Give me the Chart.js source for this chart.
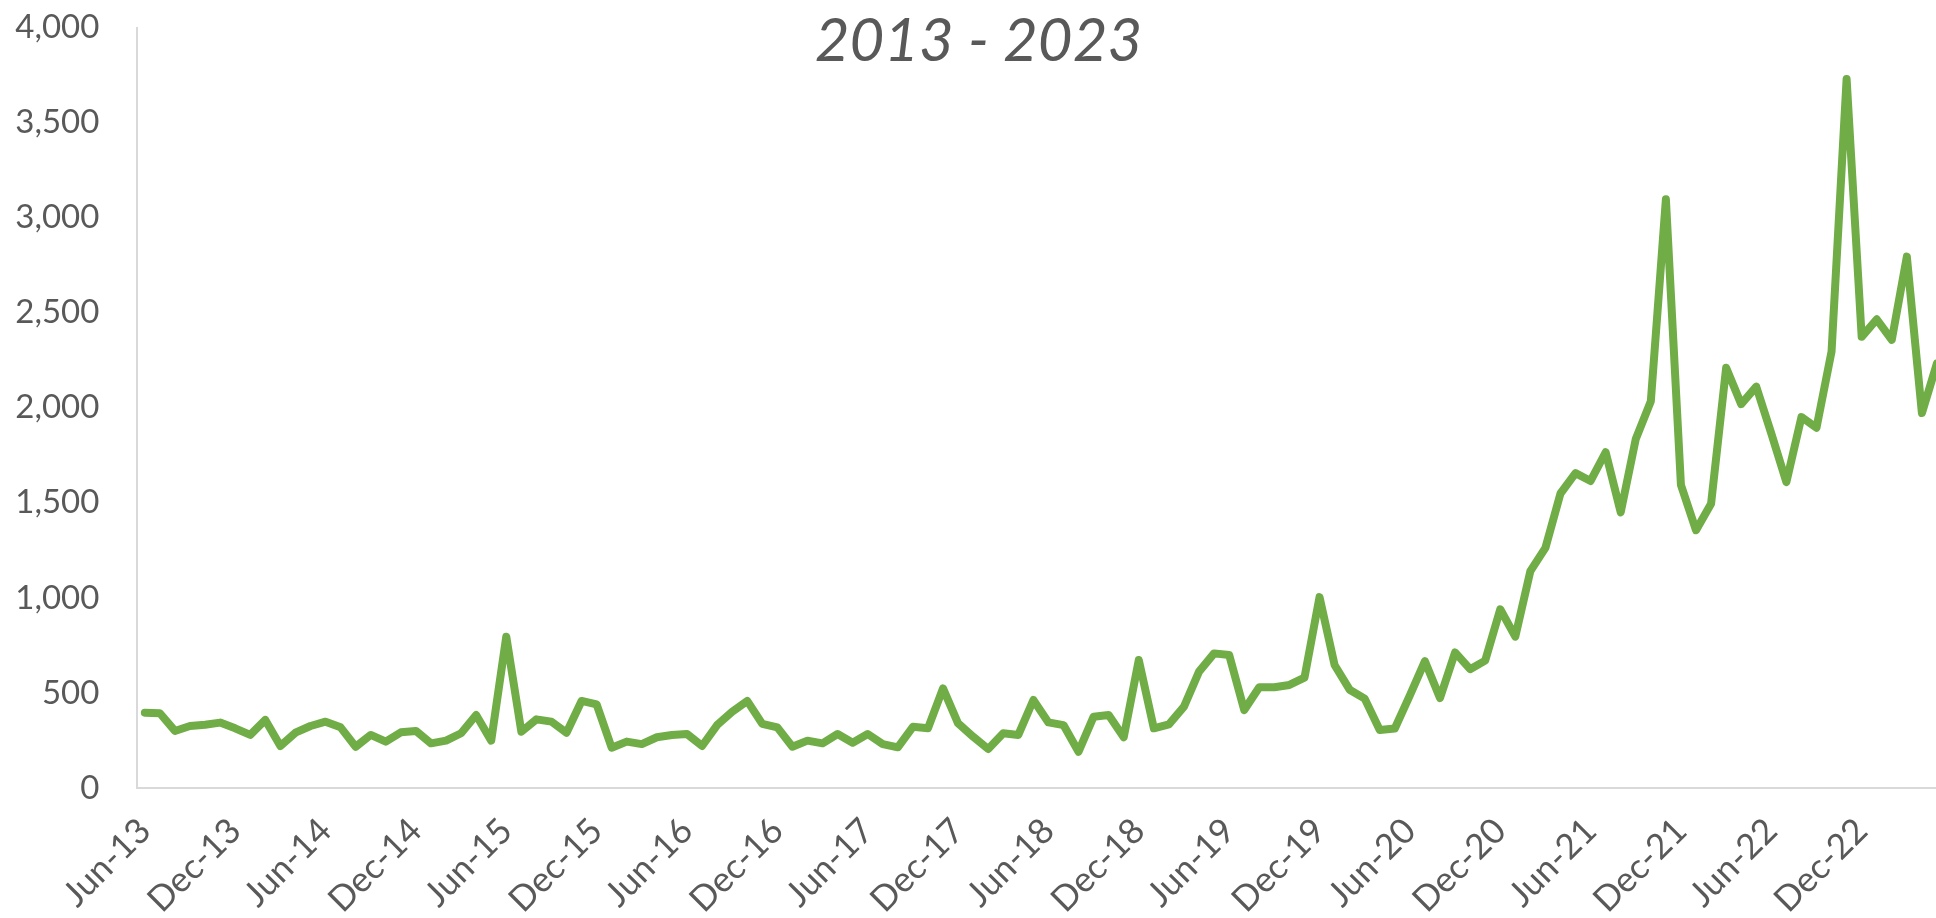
<!DOCTYPE html>
<html>
<head>
<meta charset="utf-8">
<script src="https://cdn.jsdelivr.net/npm/chart.js@4.4.1/dist/chart.umd.min.js"></script>
<style>
    html, body { margin: 0; padding: 0; background: #fff; overflow: hidden; }
    #wrap { position: absolute; left: 0; top: 0; width: 1950px; height: 918px; }
    #titulo {
        position: absolute; left: 0; top: 8px; width: 1957px;
        text-align: center; font-family: Lato, sans-serif; font-style: italic;
        font-size: 60px; line-height: 60px; color: #595959;
    }
</style>
</head>
<body>
<div id="wrap">
    <canvas id="grafico" width="1950" height="918"></canvas>
    <div id="titulo">2013 - 2023</div>
</div>
<script>
// monthly values, Jun-13 .. May-23
const meses = ['Jan', 'Feb', 'Mar', 'Apr', 'May', 'Jun', 'Jul', 'Aug', 'Sep', 'Oct', 'Nov', 'Dec'];
const valores = [
    396, 393, 300, 326, 333, 344, 314, 279, 358, 221, 291, 326,
    349, 319, 217, 279, 244, 293, 300, 235, 249, 288, 384, 249,
    796, 296, 361, 349, 291, 458, 440, 212, 244, 231, 267, 279,
    284, 221, 331, 401, 458, 337, 319, 217, 249, 235, 284, 238,
    284, 231, 214, 322, 314, 524, 340, 270, 205, 288, 279, 463,
    345, 331, 191, 375, 384, 267, 673, 314, 335, 428, 612, 708,
    700, 410, 530, 530, 542, 580, 1004, 647, 517, 470, 305, 313,
    487, 667, 473, 713, 625, 670, 940, 796, 1141, 1263, 1549, 1656,
    1615, 1766, 1450, 1836, 2034, 3097, 1594, 1356, 1495, 2210, 2019, 2111,
    1865, 1609, 1951, 1895, 2296, 3729, 2373, 2465, 2357, 2795, 1972, 2234
];
const mostrarMeses = ['Jun', 'Dec'];
const yTicks = [0, 500, 1000, 1500, 2000, 2500, 3000, 3500, 4000];

const categorias = [];
let m = 5, ano = 13;
for (let i = 0; i < valores.length; i++) {
    categorias.push(meses[m] + '-' + ano);
    m++;
    if (m === 12) { m = 0; ano++; }
}

const cinza = '#595959';
const ctx = document.getElementById('grafico').getContext('2d');
new Chart(ctx, {
    type: 'line',
    data: {
        labels: categorias,
        datasets: [{
            data: valores,
            borderColor: '#70AD47',
            borderWidth: 8,
            pointRadius: 0,
            tension: 0,
            borderJoinStyle: 'round',
            borderCapStyle: 'round'
        }]
    },
    options: {
        responsive: false,
        animation: false,
        devicePixelRatio: 1,
        layout: { padding: { top: 27.5, right: 5.5, bottom: 0, left: 0 } },
        plugins: { legend: { display: false }, tooltip: { enabled: false } },
        scales: {
            x: {
                type: 'category',
                offset: true,
                grid: { display: false, drawTicks: false },
                border: { display: true, color: '#d9d9d9', width: 2 },
                afterFit: s => {
                    s.height = 130;
                    s.paddingLeft = 0;
                    s.paddingRight = 0;
                },
                ticks: {
                    autoSkip: false,
                    minRotation: 45,
                    maxRotation: 45,
                    padding: 22,
                    color: cinza,
                    font: { family: 'Lato', size: 35 },
                    callback: function (v, i) {
                        const lab = categorias[i];
                        return mostrarMeses.includes(lab.slice(0, 3)) ? lab : '';
                    }
                }
            },
            y: {
                min: 0,
                max: 4000,
                afterFit: s => {
                    s.width = 137.3;
                    s.paddingTop = 0;
                    s.paddingBottom = 0;
                },
                afterBuildTicks: s => { s.ticks = yTicks.map(v => ({ value: v })); },
                grid: { display: false, drawTicks: false },
                border: { display: true, color: '#d9d9d9', width: 2 },
                ticks: {
                    padding: 38,
                    color: cinza,
                    font: { family: 'Lato', size: 33 },
                    callback: v => v.toLocaleString('en-US')
                }
            }
        }
    }
});
</script>
</body>
</html>
